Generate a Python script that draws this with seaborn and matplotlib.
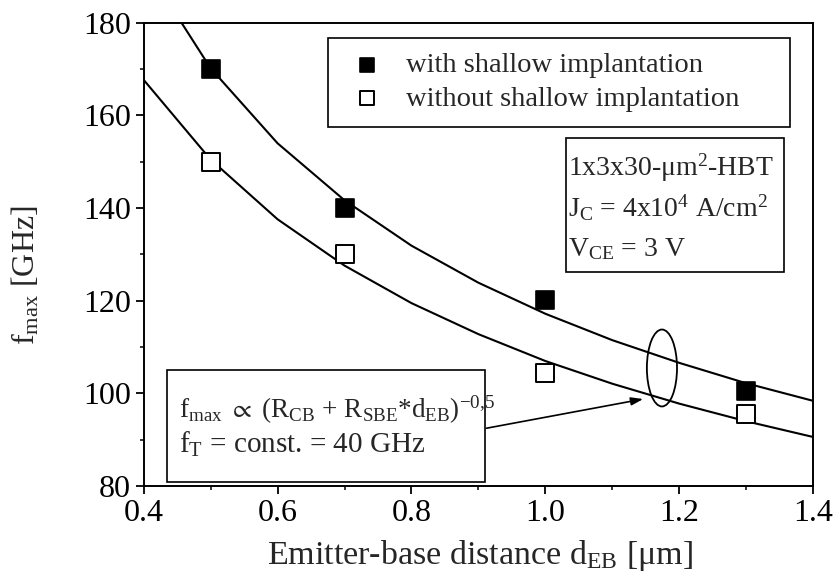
import numpy as np
import pandas as pd
import matplotlib
matplotlib.use("Agg")
import matplotlib.pyplot as plt
from matplotlib.patches import Ellipse, Rectangle
from matplotlib.ticker import MultipleLocator, FormatStrFormatter
import seaborn as sns

# measured f_max values (GHz) vs emitter-base distance (um)
d_meas = [0.5, 0.7, 1.0, 1.3]
fmax_with = [170.0, 140.0, 120.2, 100.5]
fmax_without = [150.0, 130.0, 104.5, 95.5]

# model curves
d_fit = [0.4, 0.5, 0.6, 0.7, 0.8, 0.9, 1.0, 1.1, 1.2, 1.3, 1.4]
fit_with = [192.8, 170.2, 154.0, 141.7, 131.9, 123.9, 117.2, 111.5, 106.6, 102.2, 98.4]
fit_without = [167.7, 150.5, 137.6, 127.6, 119.5, 112.8, 107.0, 102.1, 97.8, 94.0, 90.6]

sns.set_theme(style="ticks")
plt.rcParams["font.family"] = ["Liberation Serif", "DejaVu Serif"]
plt.rcParams["mathtext.fontset"] = "stix"
plt.rcParams["mathtext.default"] = "regular"

meas = pd.DataFrame({"d": d_meas, "with": fmax_with, "without": fmax_without})
fit = pd.DataFrame({"d": d_fit, "with": fit_with, "without": fit_without})

fig, ax = plt.subplots(figsize=(8.35, 5.85), dpi=100)
fig.subplots_adjust(left=0.172, right=0.974, top=0.961, bottom=0.169)

sns.lineplot(data=fit, x="d", y="with", color="black", lw=1.5, ax=ax)
sns.lineplot(data=fit, x="d", y="without", color="black", lw=1.5, ax=ax)
sns.scatterplot(data=meas, x="d", y="with", marker="s", s=175, color="black",
                edgecolor="black", linewidth=1.2, label="with shallow implantation",
                ax=ax, zorder=3)
sns.scatterplot(data=meas, x="d", y="without", marker="s", s=160, color="white",
                edgecolor="black", linewidth=1.4, label="without shallow implantation",
                ax=ax, zorder=3)

ax.set_xlim(0.4, 1.4)
ax.set_ylim(80, 180)
ax.xaxis.set_major_locator(MultipleLocator(0.2))
ax.xaxis.set_minor_locator(MultipleLocator(0.1))
ax.yaxis.set_major_locator(MultipleLocator(20))
ax.yaxis.set_minor_locator(MultipleLocator(10))
ax.xaxis.set_major_formatter(FormatStrFormatter("%.1f"))
ax.tick_params(which="major", direction="out", length=6, width=1.3,
               labelsize=23, colors="black", pad=3)
ax.tick_params(which="minor", direction="out", length=3, width=1.3)
for sp in ax.spines.values():
    sp.set_linewidth(1.4)
    sp.set_color("black")
    sp.set_visible(True)

ax.set_xlabel(r"Emitter-base distance d$_{EB}$ [$\mu$m]", fontsize=24.5)
ax.set_ylabel(r"f$_{max}$ [GHz]", fontsize=23)
ax.xaxis.set_label_coords(0.502, -0.112)
ax.yaxis.set_label_coords(-0.152, 0.456)

# legend: entries without frame, frame drawn as a box
leg = ax.legend(loc="upper left", bbox_to_anchor=(0.3124, 0.936), fontsize=20.5,
                frameon=False, handletextpad=0.86, borderpad=0, labelspacing=0.26,
                handlelength=1.0, borderaxespad=0, markerscale=0.8)
ax.add_patch(Rectangle((0.275, 0.775), 0.6906, 0.1926, transform=ax.transAxes,
                       fill=False, edgecolor="black", lw=1.2, zorder=4))

# parameter box
ax.add_patch(Rectangle((0.630, 0.462), 0.326, 0.289, transform=ax.transAxes,
                       fill=False, edgecolor="black", lw=1.2, zorder=4))
ax.text(0.634, 0.670, r"1x3x30-$\mu$m$^2$-HBT", transform=ax.transAxes,
        fontsize=20, va="baseline")
ax.text(0.634, 0.581, r"J$_C$ = 4x10$^4$ A/cm$^2$", transform=ax.transAxes,
        fontsize=20, va="baseline")
ax.text(0.634, 0.497, r"V$_{CE}$ = 3 V", transform=ax.transAxes,
        fontsize=20, va="baseline")

# formula box
ax.add_patch(Rectangle((0.0344, 0.0086), 0.4753, 0.2419, transform=ax.transAxes,
                       fill=True, facecolor="white", edgecolor="black", lw=1.2, zorder=4))
ax.text(0.0523, 0.147, r"f$_{max}$ $\propto$ (R$_{CB}$ + R$_{SBE}$*d$_{EB}$)$^{-0{,}5}$",
        transform=ax.transAxes, fontsize=19.5, va="baseline", zorder=5)
ax.text(0.0523, 0.071, r"f$_T$ = const. = 40 GHz", transform=ax.transAxes,
        fontsize=21, va="baseline", zorder=5)

ax.add_patch(Ellipse((1.174, 105.5), 0.045, 16.6, fill=False, edgecolor="black", lw=1.3))
ax.annotate("", xy=(1.146, 98.8), xytext=(0.912, 92.5),
            arrowprops=dict(arrowstyle="-|>,head_length=0.6,head_width=0.2",
                            color="black", lw=1.2, shrinkA=0, shrinkB=0))

fig.savefig("out.png", dpi=100)
